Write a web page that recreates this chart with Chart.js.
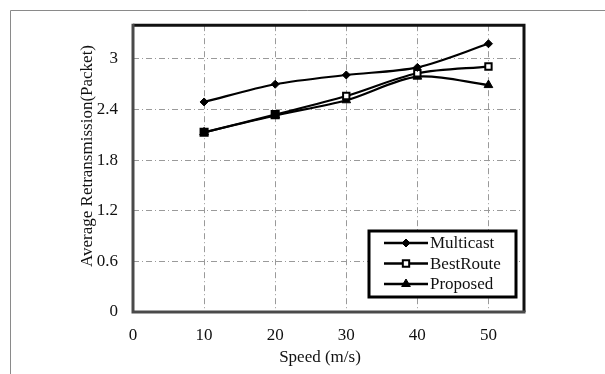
<!DOCTYPE html>
<html>
<head>
<meta charset="utf-8">
<script src="https://cdn.jsdelivr.net/npm/chart.js@4.4.0/dist/chart.umd.min.js"></script>
<style>
  html, body { margin: 0; padding: 0; background: #fff; }
  #wrap { width: 605px; height: 374px; }
</style>
</head>
<body>
<div id="wrap"><canvas id="chart"></canvas></div>
<script>
const speeds = [10, 20, 30, 40, 50];
const multicast = [2.49, 2.70, 2.81, 2.90, 3.18];
const bestRoute = [2.13, 2.34, 2.56, 2.83, 2.91];
const proposed = [2.13, 2.33, 2.51, 2.79, 2.69];
const xTicks = [0, 10, 20, 30, 40, 50];
const yTicks = [0, 0.6, 1.2, 1.8, 2.4, 3];
const seriesNames = ["Multicast", "BestRoute", "Proposed"];
const xTitle = "Speed (m/s)";
const yTitle = "Average Retransmission(Packet)";

const serif = "'Liberation Serif', 'Times New Roman', serif";

function pairs(values) {
  return speeds.map((s, i) => ({ x: s, y: values[i] }));
}

// frame, plot border, axis titles and the boxed legend
const decorations = {
  id: "decorations",
  beforeDraw(chart) {
    const ctx = chart.ctx;
    ctx.save();
    ctx.fillStyle = "#fff";
    ctx.fillRect(0, 0, chart.width, chart.height);
    ctx.strokeStyle = "#8a8a8a";
    ctx.lineWidth = 1;
    ctx.beginPath();
    ctx.moveTo(10.5, chart.height);
    ctx.lineTo(10.5, 10.5);
    ctx.lineTo(chart.width, 10.5);
    ctx.stroke();
    ctx.restore();
  },
  afterDraw(chart) {
    const ctx = chart.ctx;
    const a = chart.chartArea;
    ctx.save();
    ctx.lineWidth = 3;
    ctx.strokeStyle = "#111";
    ctx.beginPath();
    ctx.moveTo(a.left, a.top);
    ctx.lineTo(a.right, a.top);
    ctx.lineTo(a.right, a.bottom);
    ctx.stroke();
    ctx.strokeStyle = "#4a4a4a";
    ctx.beginPath();
    ctx.moveTo(a.left, a.top - 1.5);
    ctx.lineTo(a.left, a.bottom);
    ctx.lineTo(a.right + 1.5, a.bottom);
    ctx.stroke();

    ctx.fillStyle = "#111";
    ctx.font = "17px " + serif;
    ctx.textAlign = "center";
    ctx.textBaseline = "middle";
    ctx.fillText(xTitle, 320, 358);
    ctx.save();
    ctx.translate(88, 156);
    ctx.rotate(-Math.PI / 2);
    ctx.fillText(yTitle, 0, 0);
    ctx.restore();

    // legend
    const bx = 369, by = 231, bw = 147, bh = 66;
    ctx.fillStyle = "#fff";
    ctx.fillRect(bx, by, bw, bh);
    ctx.lineWidth = 3;
    ctx.strokeStyle = "#000";
    ctx.strokeRect(bx, by, bw, bh);
    ctx.textAlign = "left";
    chart.data.datasets.forEach((ds, i) => {
      const y = 243 + i * 20.5;
      ctx.strokeStyle = "#000";
      ctx.lineWidth = 2.5;
      ctx.beginPath();
      ctx.moveTo(384, y);
      ctx.lineTo(428, y);
      ctx.stroke();
      ctx.fillStyle = ds.legendFill;
      ctx.strokeStyle = "#000";
      ctx.lineWidth = ds.pointBorderWidth;
      Chart.helpers.drawPoint(ctx, {
        pointStyle: ds.pointStyle,
        radius: ds.legendRadius,
        borderWidth: ds.pointBorderWidth
      }, 406, y);
      ctx.fillStyle = "#111";
      ctx.font = "17px " + serif;
      ctx.fillText(ds.label, 430, y + 1);
    });
    ctx.restore();
  }
};

const gridColor = (c) => (c.tick && c.tick.value === 0 ? "rgba(0,0,0,0)" : "#9a9a9a");

new Chart(document.getElementById("chart"), {
  type: "line",
  data: {
    datasets: [
      {
        label: seriesNames[0],
        data: pairs(multicast),
        borderColor: "#000",
        borderWidth: 2.2,
        pointStyle: "rectRot",
        pointRadius: 4,
        pointBackgroundColor: "#000",
        pointBorderColor: "#000",
        pointBorderWidth: 1,
        legendRadius: 4,
        legendFill: "#000",
        tension: 0.3
      },
      {
        label: seriesNames[1],
        data: pairs(bestRoute),
        borderColor: "#000",
        borderWidth: 2.2,
        pointStyle: "rect",
        pointRadius: [5, 5, 4.5, 4.5, 4.5],
        pointBackgroundColor: ["#000", "#000", "#fff", "#fff", "#fff"],
        pointBorderColor: "#000",
        pointBorderWidth: 2,
        legendRadius: 4.5,
        legendFill: "#fff",
        tension: 0.3
      },
      {
        label: seriesNames[2],
        data: pairs(proposed),
        borderColor: "#000",
        borderWidth: 2.2,
        pointStyle: "triangle",
        pointRadius: 5,
        pointBackgroundColor: "#000",
        pointBorderColor: "#000",
        pointBorderWidth: 1,
        legendRadius: 5,
        legendFill: "#000",
        tension: 0.3
      }
    ]
  },
  options: {
    responsive: true,
    maintainAspectRatio: false,
    animation: false,
    layout: { padding: { left: 0, top: 25, right: 81, bottom: 0 } },
    plugins: { legend: { display: false }, tooltip: { enabled: false } },
    scales: {
      x: {
        type: "linear",
        min: 0,
        max: 55,
        afterBuildTicks: (s) => { s.ticks = xTicks.map((v) => ({ value: v })); },
        afterFit: (s) => { s.height = 62; },
        grid: { color: gridColor, lineWidth: 1, drawTicks: false },
        border: { display: false, dash: [6, 3, 1, 3] },
        ticks: {
          padding: 13,
          color: "#111",
          font: { family: serif, size: 17 },
          callback: (v) => String(v)
        }
      },
      y: {
        type: "linear",
        min: 0,
        max: 3.4,
        afterBuildTicks: (s) => { s.ticks = yTicks.map((v) => ({ value: v })); },
        afterFit: (s) => { s.width = 133; },
        grid: { color: gridColor, lineWidth: 1, drawTicks: false },
        border: { display: false, dash: [6, 3, 1, 3] },
        ticks: {
          padding: 15,
          color: "#111",
          font: { family: serif, size: 17 },
          callback: (v) => String(v)
        }
      }
    }
  },
  plugins: [decorations]
});
</script>
</body>
</html>
